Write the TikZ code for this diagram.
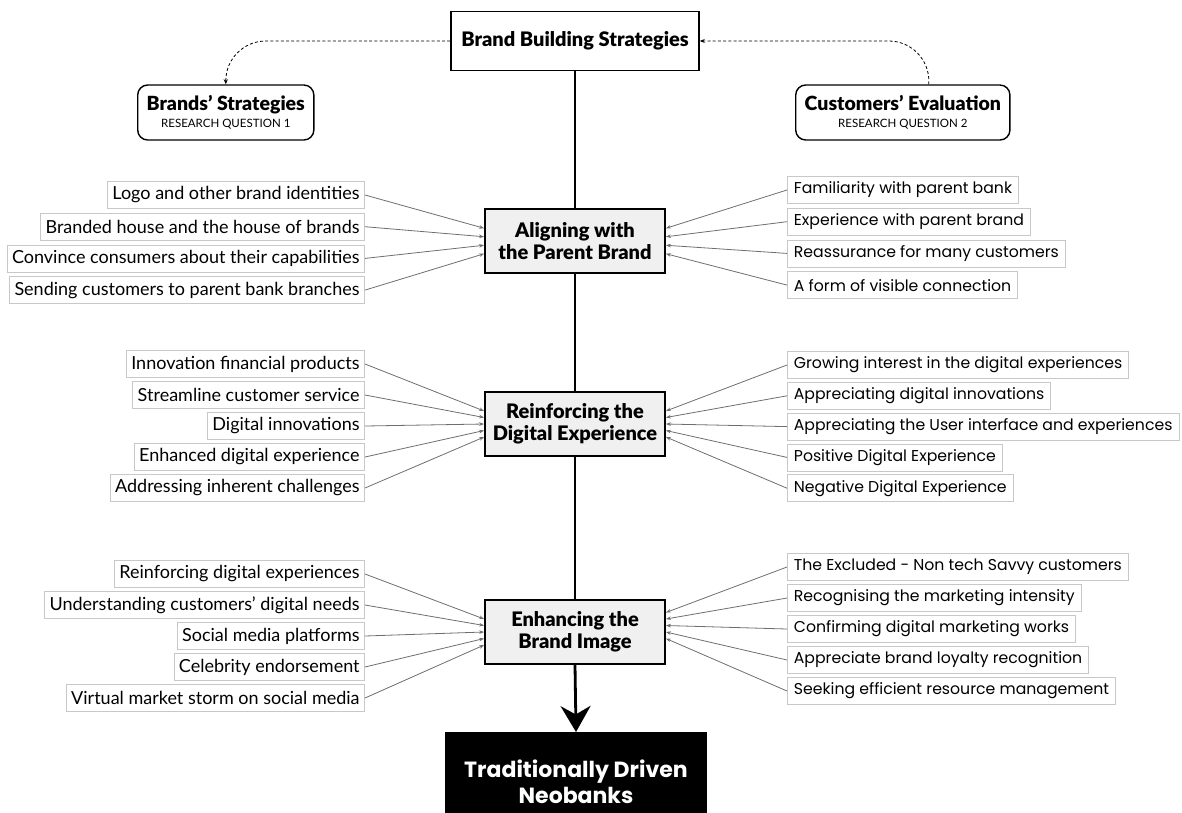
\documentclass[tikz,border=0pt]{standalone}
\usepackage{fontspec}
\setmainfont{Lato}
\newfontfamily\poppins{Poppins}
\newfontfamily\heavy{Lato Black}
\usetikzlibrary{arrows.meta}

\definecolor{feedgray}{HTML}{6E6E6E}
\definecolor{boxgray}{HTML}{C8C8C8}
\definecolor{themefill}{HTML}{F0F0F0}

\tikzset{
    topbox/.style={draw, line width=1.6pt, fill=white, minimum width=248pt, minimum height=59pt,
        font=\heavy\fontsize{20}{22}\selectfont},
    rqbox/.style={draw, line width=1.4pt, rounded corners=10pt, minimum height=55pt, inner xsep=9pt,
        inner ysep=3pt, align=center, anchor=west},
    themebox/.style={draw, line width=1.8pt, fill=themefill, minimum width=180pt, minimum height=64pt,
        align=center, font=\heavy\fontsize{20}{22}\selectfont},
    leftitem/.style={draw=boxgray, line width=0.8pt, minimum height=27pt, inner xsep=5pt, inner ysep=2pt,
        anchor=east, font=\fontsize{18}{20}\selectfont},
    rightitem/.style={draw=boxgray, line width=0.8pt, minimum height=27pt, inner xsep=6.5pt, inner ysep=2pt,
        anchor=west, font=\poppins\fontsize{15.7}{18}\selectfont},
    feed/.style={draw=feedgray, line width=0.8pt, -{Stealth[length=5pt,width=3.6pt]}},
    spine/.style={line width=2.8pt},
    dashlink/.style={dashed, dash pattern=on 3pt off 2.2pt, line width=0.8pt, rounded corners=40pt,
        -{Stealth[length=5pt,width=4pt]}}
}

\begin{document}
\begin{tikzpicture}[x=1pt, y=-1pt]

    \useasboundingbox (0,0) rectangle (1182,812);
    \clip (0,0) rectangle (1182,812);

    % Top of the framework
    \node[topbox] (top) at (575,41) {Brand Building Strategies};
    \node[rqbox] (brands) at (137,112.5) {{\heavy\fontsize{19.5}{21}\selectfont Brands’ Strategies}\\[5pt]
        {\fontsize{11.5}{12}\selectfont RESEARCH QUESTION 1}};
    \node[rqbox] (cust) at (795,112.5) {{\heavy\fontsize{19.5}{21}\selectfont Customers’ Evaluation}\\[5pt]
        {\fontsize{11.5}{12}\selectfont RESEARCH QUESTION 2}};
    \draw[dashlink] (top.west) -| (brands.north);
    \draw[dashlink] ([xshift=26pt]cust.north) |- (top.east);

    % The three themes and the outcome
    \node[themebox] (align) at (575,241) {Aligning with\\the Parent Brand};
    \node[themebox] (reinf) at (575,424) {Reinforcing the\\Digital Experience};
    \node[themebox] (enh) at (575,632) {Enhancing the\\Brand Image};
    \node[fill=black, text=white, minimum width=262pt, minimum height=100pt, anchor=north, align=center,
        font=\poppins\fontsize{22}{26}\selectfont\bfseries] (out) at (576,732) {Traditionally Driven\\Neobanks};

    \draw[spine] (top.south) -- (align.north);
    \draw[spine] (align.south) -- (reinf.north);
    \draw[spine] (reinf.south) -- (enh.north);
    \draw[spine, -{Stealth[length=26pt,width=30pt]}] (enh.south) -- (out.north);

    % Theme 1: brands (left) and customers (right)
    \foreach \txt [count=\i] in {Logo and other brand identities, Branded house and the house of brands,
        Convince consumers about their capabilities, Sending customers to parent bank branches} {
        \node[leftitem] (la\i) at (365,{195+31.7*(\i-1)}) {\txt};
        \draw[feed] (la\i.east) -- ([yshift={(2.5-\i)*8.5pt}]align.west);
    }
    \foreach \txt [count=\i] in {Familiarity with parent bank, Experience with parent brand,
        Reassurance for many customers, A form of visible connection} {
        \node[rightitem] (ra\i) at (787,{190+31.7*(\i-1)}) {\txt};
        \draw[feed] (ra\i.west) -- ([yshift={(2.5-\i)*8.5pt}]align.east);
    }

    % Theme 2
    \foreach \txt [count=\i] in {Innovation financial products, Streamline customer service,
        Digital innovations, Enhanced digital experience, Addressing inherent challenges} {
        \node[leftitem] (lb\i) at (365,{364+31*(\i-1)}) {\txt};
        \draw[feed] (lb\i.east) -- ([yshift={(3-\i)*6.5pt}]reinf.west);
    }
    \foreach \txt [count=\i] in {Growing interest in the digital experiences, Appreciating digital innovations,
        Appreciating the User interface and experiences, Positive Digital Experience,
        Negative Digital Experience} {
        \node[rightitem] (rb\i) at (787,{365+30.8*(\i-1)}) {\txt};
        \draw[feed] (rb\i.west) -- ([yshift={(3-\i)*6.5pt}]reinf.east);
    }

    % Theme 3
    \foreach \txt [count=\i] in {Reinforcing digital experiences, Understanding customers' digital needs,
        Social media platforms, Celebrity endorsement, Virtual market storm on social media} {
        \node[leftitem] (lc\i) at (365,{574+31*(\i-1)}) {\txt};
        \draw[feed] (lc\i.east) -- ([yshift={(3-\i)*6.5pt}]enh.west);
    }
    \foreach \txt [count=\i] in {The Excluded - Non tech Savvy customers, Recognising the marketing intensity,
        Confirming digital marketing works, Appreciate brand loyalty recognition,
        Seeking efficient resource management} {
        \node[rightitem] (rc\i) at (787,{567+31*(\i-1)}) {\txt};
        \draw[feed] (rc\i.west) -- ([yshift={(4-\i)*6.5pt}]enh.east);
    }

\end{tikzpicture}
\end{document}
